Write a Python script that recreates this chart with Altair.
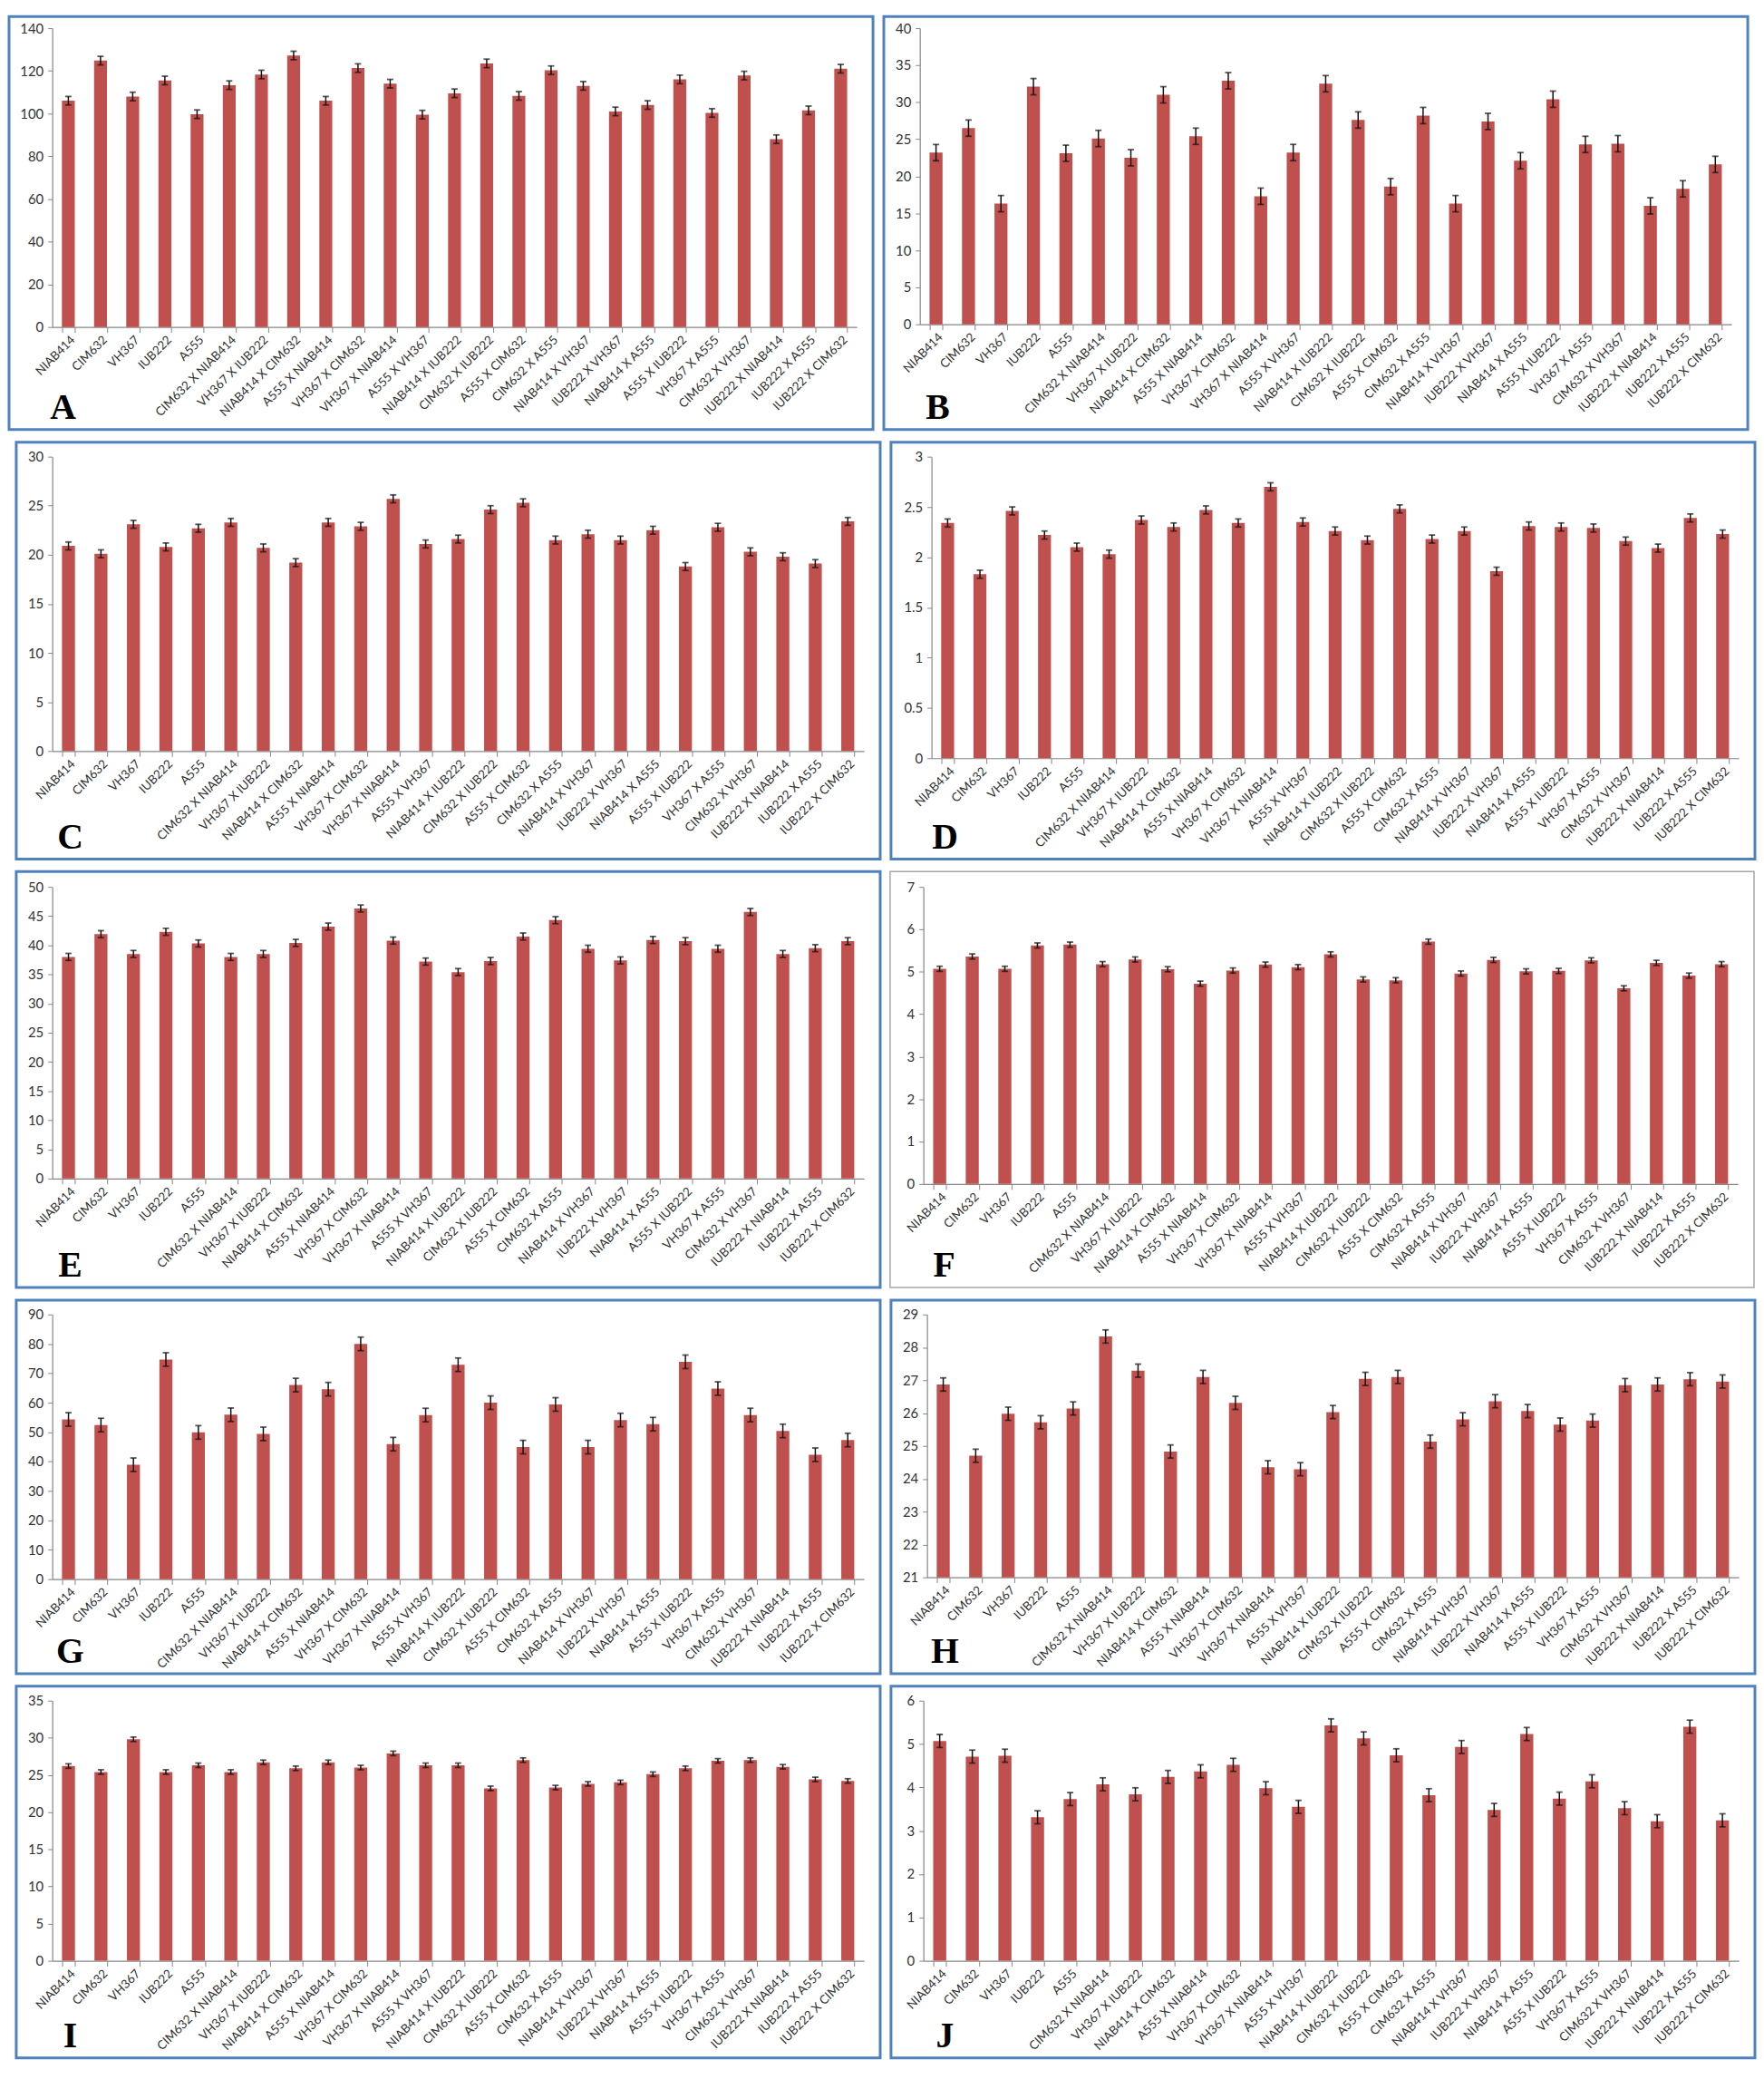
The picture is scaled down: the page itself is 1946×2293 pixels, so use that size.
import altair as alt
import pandas as pd

categories = [
    "NIAB414", "CIM632", "VH367", "IUB222", "A555",
    "CIM632 X NIAB414", "VH367 X IUB222", "NIAB414 X CIM632", "A555 X NIAB414",
    "VH367 X CIM632", "VH367 X NIAB414", "A555 X VH367", "NIAB414 X IUB222",
    "CIM632 X IUB222", "A555 X CIM632", "CIM632 X A555", "NIAB414 X VH367",
    "IUB222 X VH367", "NIAB414 X A555", "A555 X IUB222", "VH367 X A555",
    "CIM632 X VH367", "IUB222 X NIAB414", "IUB222 X A555", "IUB222 X CIM632",
]

A_values = [106, 124.8, 108, 115.5, 99.7, 113.3, 118.3, 127.2, 106, 121.3, 114, 99.5, 109.5,
            123.5, 108.3, 120.3, 113, 101, 104, 116, 100.3, 117.8, 88, 101.5, 121]
A_err = 2.0
B_values = [23.2, 26.5, 16.3, 32.1, 23.1, 25.1, 22.5, 31.0, 25.4, 32.9, 17.3, 23.2, 32.5,
            27.6, 18.6, 28.2, 16.3, 27.4, 22.1, 30.4, 24.3, 24.4, 16.0, 18.3, 21.6]
B_err = 1.1
C_values = [20.9, 20.1, 23.1, 20.8, 22.7, 23.3, 20.7, 19.2, 23.3, 22.9, 25.7, 21.1, 21.6,
            24.6, 25.3, 21.5, 22.1, 21.5, 22.5, 18.8, 22.8, 20.3, 19.8, 19.1, 23.4]
C_err = 0.4
D_values = [2.34, 1.83, 2.46, 2.22, 2.10, 2.03, 2.37, 2.30, 2.47, 2.34, 2.70, 2.35, 2.26,
            2.17, 2.48, 2.18, 2.26, 1.86, 2.31, 2.30, 2.29, 2.16, 2.09, 2.39, 2.23]
D_err = 0.04
E_values = [38.0, 41.9, 38.5, 42.3, 40.3, 38.0, 38.5, 40.4, 43.2, 46.3, 40.8, 37.2, 35.4,
            37.3, 41.5, 44.3, 39.4, 37.4, 40.9, 40.7, 39.4, 45.7, 38.5, 39.5, 40.7]
E_err = 0.6
F_values = [5.07, 5.36, 5.07, 5.62, 5.64, 5.18, 5.29, 5.06, 4.72, 5.03, 5.17, 5.11, 5.41,
            4.82, 4.80, 5.71, 4.96, 5.28, 5.01, 5.02, 5.27, 4.61, 5.21, 4.91, 5.18]
F_err = 0.06
G_values = [54.3, 52.4, 38.9, 74.7, 49.9, 55.9, 49.4, 66.0, 64.6, 80.0, 45.9, 55.8, 72.9,
            60.0, 44.9, 59.4, 44.9, 54.1, 52.7, 73.9, 64.8, 55.8, 50.4, 42.3, 47.3]
G_err = 2.3
H_values = [26.87, 24.70, 25.98, 25.72, 26.14, 28.33, 27.29, 24.83, 27.10, 26.31, 24.35, 24.29, 26.03,
            27.04, 27.10, 25.13, 25.81, 26.36, 26.06, 25.65, 25.77, 26.85, 26.87, 27.03, 26.96]
H_err = 0.2
I_values = [26.2, 25.4, 29.8, 25.4, 26.3, 25.4, 26.7, 25.9, 26.7, 26.0, 27.9, 26.3, 26.3,
            23.2, 27.0, 23.3, 23.8, 24.0, 25.1, 25.9, 26.9, 27.0, 26.1, 24.4, 24.2]
I_err = 0.3
J_values = [5.07, 4.71, 4.73, 3.31, 3.73, 4.07, 3.84, 4.24, 4.37, 4.52, 3.98, 3.55, 5.43,
            5.13, 4.74, 3.82, 4.93, 3.48, 5.23, 3.74, 4.14, 3.52, 3.22, 5.40, 3.24]
J_err = 0.15

# y axis ranges: (min, max, step)
A_axis = (0, 140, 20)
B_axis = (0, 40, 5)
C_axis = (0, 30, 5)
D_axis = (0, 3, 0.5)
E_axis = (0, 50, 5)
F_axis = (0, 7, 1)
G_axis = (0, 90, 10)
H_axis = (21, 29, 1)
I_axis = (0, 35, 5)
J_axis = (0, 6, 1)

BAR = "#C0504D"
BLUE = "#4F81BD"
GREY = "#A6A6A6"
AXIS = "#868686"
TXT = "#333333"
BOX_W = 960
RIGHT = 18
FONT = "Lato"


def tick_values(lo, hi, step):
    n = int(round((hi - lo) / step))
    return [round(lo + i * step, 6) for i in range(n + 1)]


def panel(letter, values, err, axis_rng, L, T, P, H, border=BLUE, bw=3):
    lo, hi, step = axis_rng
    W = BOX_W - L - RIGHT
    df = pd.DataFrame({"cat": categories, "value": values})
    df["lo"] = df["value"] - err
    df["hi"] = df["value"] + err
    df["base"] = lo

    xscale = alt.Scale(paddingInner=0.6, paddingOuter=0.3)
    xaxis = alt.Axis(title=None, labelAngle=-45, labelAlign="right", labelBaseline="top",
                     labelFont=FONT, labelFontSize=13.5, labelColor=TXT, labelPadding=1,
                     domainColor=AXIS, domainWidth=1.2, tickColor=AXIS, tickSize=6,
                     tickBand="extent", labelLimit=300)
    yaxis = alt.Axis(title=None, values=tick_values(lo, hi, step), format="~r", grid=False,
                     labelFont=FONT, labelFontSize=15, labelColor=TXT, labelPadding=5,
                     domainColor=AXIS, domainWidth=1.2, tickColor=AXIS, tickSize=5)
    yscale = alt.Scale(domain=[lo, hi], nice=False, zero=False)

    xenc = alt.X("cat:N", sort=categories, scale=xscale, axis=xaxis)

    bars = alt.Chart(df).mark_bar(color=BAR).encode(
        x=xenc,
        y=alt.Y("value:Q", scale=yscale, axis=yaxis),
        y2="base:Q",
    )
    rule = alt.Chart(df).mark_rule(color="#111111", strokeWidth=1.5).encode(
        x=xenc, y=alt.Y("lo:Q", scale=yscale, axis=yaxis), y2="hi:Q"
    )
    cap_hi = alt.Chart(df).mark_tick(color="#111111", thickness=1.8, size=7).encode(
        x=xenc, y=alt.Y("hi:Q", scale=yscale, axis=yaxis)
    )
    cap_lo = alt.Chart(df).mark_tick(color="#111111", thickness=1.8, size=7).encode(
        x=xenc, y=alt.Y("lo:Q", scale=yscale, axis=yaxis)
    )
    one = pd.DataFrame({"k": [0]})
    box = alt.Chart(one).mark_rect(filled=False, stroke=border, strokeWidth=bw, fillOpacity=0).encode(
        x=alt.value(-L), x2=alt.value(W + RIGHT), y=alt.value(-T), y2=alt.value(H - T)
    )
    lab = alt.Chart(one).mark_text(
        text=letter, font="Liberation Serif", fontWeight="bold", fontSize=40,
        align="center", baseline="alphabetic", color="#000000"
    ).encode(x=alt.value(60 - L), y=alt.value(H - T - 12))
    return alt.layer(bars, rule, cap_hi, cap_lo, box, lab).properties(width=W, height=P)


pA = panel("A", A_values, A_err, A_axis, L=48, T=13, P=332, H=459)
pB = panel("B", B_values, B_err, B_axis, L=40, T=13, P=329, H=459)
pC = panel("C", C_values, C_err, C_axis, L=40, T=16, P=327, H=463)
pD = panel("D", D_values, D_err, D_axis, L=45, T=16, P=335, H=463)
pE = panel("E", E_values, E_err, E_axis, L=40, T=17, P=324, H=462)
pF = panel("F", F_values, F_err, F_axis, L=37, T=17, P=330, H=462, border=GREY, bw=1.5)
pG = panel("G", G_values, G_err, G_axis, L=40, T=16, P=294, H=415)
pH = panel("H", H_values, H_err, H_axis, L=40, T=16, P=292, H=415)
pI = panel("I", I_values, I_err, I_axis, L=40, T=16, P=289, H=413)
pJ = panel("J", J_values, J_err, J_axis, L=36, T=16, P=289, H=413)

rows = [
    alt.hconcat(pA, pB, spacing=8),
    alt.hconcat(pC, pD, spacing=8),
    alt.hconcat(pE, pF, spacing=8),
    alt.hconcat(pG, pH, spacing=8),
    alt.hconcat(pI, pJ, spacing=8),
]

chart = alt.vconcat(*rows, spacing=10).properties(padding=0).configure_view(stroke=None)

chart.save("out.html", embed_options={"renderer": "svg", "actions": False})
